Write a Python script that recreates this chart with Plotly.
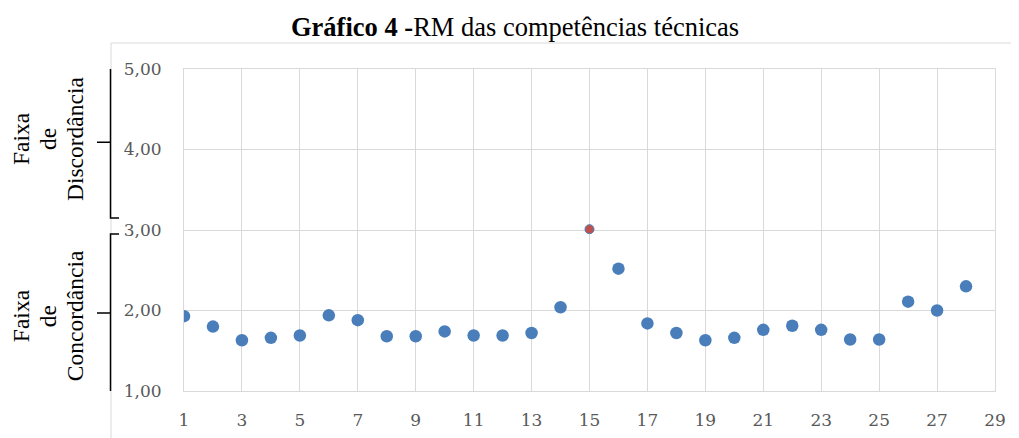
import plotly.graph_objects as go

items = list(range(1, 29))
rm = [1.93, 1.80, 1.63, 1.66, 1.69, 1.94, 1.88, 1.68, 1.68, 1.74,
      1.69, 1.69, 1.72, 2.04, 3.01, 2.52, 1.84, 1.72, 1.63, 1.66,
      1.76, 1.81, 1.76, 1.64, 1.64, 2.11, 2.00, 2.30]
highlight_item = 15

x_ticks = list(range(1, 30, 2))
y_ticks = [1, 2, 3, 4, 5]
y_tick_text = ["1,00", "2,00", "3,00", "4,00", "5,00"]

BLUE = "#4a7ebb"
RED = "#c0504d"
GRID = "#d9d9d9"
TICK = "#595959"

bx = [i for i in items if i != highlight_item]
by = [v for i, v in zip(items, rm) if i != highlight_item]
hx = [highlight_item]
hy = [rm[items.index(highlight_item)]]

fig = go.Figure()
fig.add_trace(go.Scatter(x=bx, y=by, mode="markers",
                         marker=dict(color=BLUE, size=12.5), showlegend=False))
fig.add_trace(go.Scatter(x=hx, y=hy, mode="markers",
                         marker=dict(color=RED, size=9, line=dict(color=BLUE, width=1)),
                         showlegend=False))

OFF = 8  # page body margin
W, H = 1019 - OFF, 438 - OFF
# target pixel geometry in the window
PL, PR, PT, PB = 184, 995, 69, 391
L, T = PL - OFF, PT - OFF
R = W - (PR - OFF)
B = H - (PB - OFF)
pw = PR - PL
ph = PB - PT

def px(p):
    return (p - PL) / pw

def py(p):
    return (PB - p) / ph

fig.update_layout(
    width=W, height=H,
    margin=dict(l=L, r=R, t=T, b=B),
    paper_bgcolor="white", plot_bgcolor="white",
    font=dict(family="Liberation Serif", color="black"),
)
fig.update_xaxes(range=[1, 29], tickvals=x_ticks, showgrid=True, gridcolor=GRID,
                 gridwidth=1, showline=True, mirror=True, linecolor=GRID, zeroline=False,
                 ticks="", tickfont=dict(family="DejaVu Serif", size=17, color=TICK),
                 ticklabelstandoff=14, automargin=False)
fig.update_yaxes(range=[1, 5], tickvals=y_ticks, ticktext=y_tick_text, showgrid=True,
                 gridcolor=GRID, gridwidth=1, showline=True, mirror=True, linecolor=GRID,
                 zeroline=False, ticks="",
                 tickfont=dict(family="DejaVu Serif", size=17, color=TICK),
                 ticklabelstandoff=18, automargin=False)

# outer chart border
fig.add_shape(type="rect", xref="paper", yref="paper",
              x0=px(111), x1=px(1040), y0=py(460), y1=py(43),
              line=dict(color=GRID, width=1), layer="below")

# brackets
def bracket(top, bot, mid):
    xv, xh, xt = px(110.5), px(119), px(97)
    return (f"M {xh},{top} L {xv},{top} L {xv},{bot} L {xh},{bot} "
            f"M {xv},{mid} L {xt},{mid}")

fig.add_shape(type="path", xref="paper", yref="y",
              path=bracket(5.03, 3.15, 4.09), line=dict(color="black", width=1.5))
fig.add_shape(type="path", xref="paper", yref="y",
              path=bracket(2.95, 0.97, 1.97), line=dict(color="black", width=1.5))

label_lines_x = [21, 48, 75]
for ymid, word in [(4.13, "Discordância"), (1.93, "Concordância")]:
    for xp, line in zip(label_lines_x, ["Faixa", "de", word]):
        fig.add_annotation(xref="paper", yref="y", x=px(xp), y=ymid,
                           xanchor="center", yanchor="middle",
                           text=line, textangle=-90, showarrow=False, borderpad=0,
                           font=dict(family="Liberation Serif", size=23.5, color="black"))

fig.add_annotation(xref="paper", yref="paper", x=px(515), y=py(27),
                   text="<b>Gráfico 4 -</b>RM das competências técnicas",
                   showarrow=False, xanchor="center", yanchor="middle",
                   font=dict(family="Liberation Serif", size=26.5, color="black"))

fig.write_html("out.html")
